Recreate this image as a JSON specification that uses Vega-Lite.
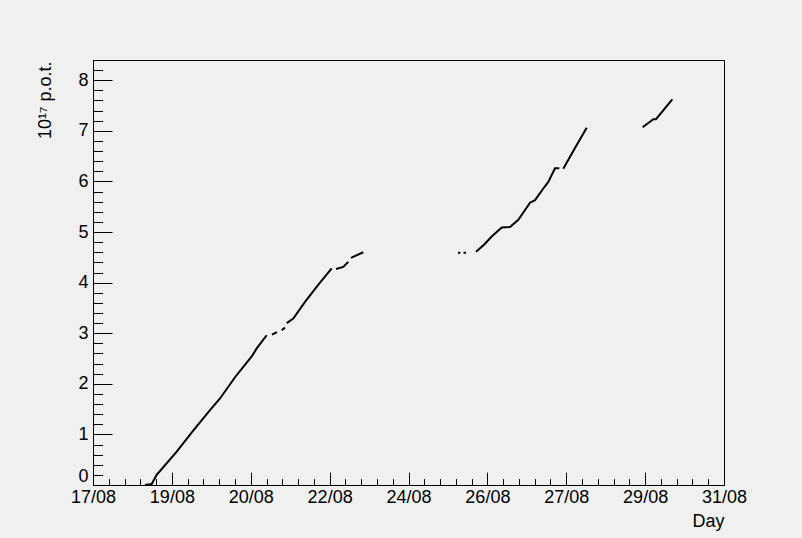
{
  "$schema": "https://vega.github.io/schema/vega-lite/v6.json",
  "autosize": "none",
  "width": 631,
  "height": 425,
  "padding": {"left": 93, "top": 60, "right": 78, "bottom": 53},
  "background": "#f0f0f0",
  "config": {
    "view": {"stroke": "black", "strokeWidth": 1, "fill": null},
    "axis": {
      "labelFont": "Liberation Sans",
      "labelFontSize": 18,
      "labelColor": "black",
      "titleFont": "Liberation Sans",
      "titleFontSize": 18,
      "titleFontWeight": "normal",
      "titleColor": "black",
      "domainColor": "black",
      "tickColor": "black",
      "grid": false,
      "labelFlush": false,
      "labelOverlap": false
    }
  },
  "data": {
    "values": [
      {"d": 1.154, "v": 0.0, "s": 1},
      {"d": 1.302, "v": 0.02, "s": 1},
      {"d": 1.413, "v": 0.2, "s": 1},
      {"d": 1.857, "v": 0.66, "s": 1},
      {"d": 2.219, "v": 1.07, "s": 1},
      {"d": 2.596, "v": 1.48, "s": 1},
      {"d": 2.818, "v": 1.71, "s": 1},
      {"d": 3.151, "v": 2.13, "s": 1},
      {"d": 3.521, "v": 2.54, "s": 1},
      {"d": 3.632, "v": 2.7, "s": 1},
      {"d": 3.854, "v": 2.96, "s": 1},
      {"d": 3.971, "v": 2.97, "s": 2},
      {"d": 4.082, "v": 3.02, "s": 2},
      {"d": 4.187, "v": 3.06, "s": 3},
      {"d": 4.26, "v": 3.11, "s": 3},
      {"d": 4.298, "v": 3.2, "s": 4},
      {"d": 4.444, "v": 3.29, "s": 4},
      {"d": 4.704, "v": 3.62, "s": 4},
      {"d": 4.992, "v": 3.95, "s": 4},
      {"d": 5.296, "v": 4.28, "s": 4},
      {"d": 5.391, "v": 4.27, "s": 5},
      {"d": 5.553, "v": 4.31, "s": 5},
      {"d": 5.664, "v": 4.41, "s": 5},
      {"d": 5.724, "v": 4.49, "s": 6},
      {"d": 5.997, "v": 4.6, "s": 6},
      {"d": 8.098, "v": 4.59, "s": 7},
      {"d": 8.15, "v": 4.59, "s": 7},
      {"d": 8.22, "v": 4.59, "s": 8},
      {"d": 8.276, "v": 4.59, "s": 8},
      {"d": 8.498, "v": 4.61, "s": 9},
      {"d": 8.675, "v": 4.75, "s": 9},
      {"d": 8.846, "v": 4.91, "s": 9},
      {"d": 9.068, "v": 5.09, "s": 9},
      {"d": 9.252, "v": 5.1, "s": 9},
      {"d": 9.436, "v": 5.24, "s": 9},
      {"d": 9.696, "v": 5.58, "s": 9},
      {"d": 9.807, "v": 5.63, "s": 9},
      {"d": 9.991, "v": 5.86, "s": 9},
      {"d": 10.102, "v": 5.99, "s": 9},
      {"d": 10.25, "v": 6.26, "s": 9},
      {"d": 10.346, "v": 6.26, "s": 9},
      {"d": 10.434, "v": 6.25, "s": 10},
      {"d": 10.694, "v": 6.66, "s": 10},
      {"d": 10.954, "v": 7.06, "s": 10},
      {"d": 12.196, "v": 7.07, "s": 11},
      {"d": 12.358, "v": 7.18, "s": 11},
      {"d": 12.431, "v": 7.23, "s": 11},
      {"d": 12.491, "v": 7.23, "s": 11},
      {"d": 12.853, "v": 7.62, "s": 11}
    ]
  },
  "resolve": {"axis": {"x": "independent", "y": "independent"}},
  "layer": [
    {
      "mark": {"type": "line", "color": "black", "strokeWidth": 2},
      "encoding": {
        "x": {
          "field": "d", "type": "quantitative",
          "scale": {"domain": [0, 14], "nice": false, "zero": false},
          "axis": {
            "orient": "bottom",
            "values": [0, 1.75, 3.5, 5.25, 7, 8.75, 10.5, 12.25, 14],
            "labelExpr": "['17/08','19/08','20/08','22/08','24/08','26/08','27/08','29/08','31/08'][round(datum.value/1.75)]",
            "tickSize": -12.75,
            "labelPadding": 16.5,
            "title": "Day",
            "titleAnchor": "end",
            "titleAlign": "right",
            "titleBaseline": "alphabetic",
            "titleX": 631,
            "titleY": 41
          }
        },
        "y": {
          "field": "v", "type": "quantitative",
          "scale": {"domain": [0, 8.4], "nice": false},
          "axis": {
            "orient": "left",
            "values": [0, 1, 2, 3, 4, 5, 6, 7, 8],
            "tickSize": -19,
            "labelPadding": 24,
            "labelBaseline": {"condition": {"test": "datum.value === 0", "value": "bottom"}, "value": "middle"},
            "title": "10¹⁷ p.o.t.",
            "titleAngle": -90,
            "titleAlign": "right",
            "titleBaseline": "alphabetic",
            "titleAnchor": "end",
            "titleX": -43,
            "titleY": 1
          }
        },
        "detail": {"field": "s"}
      }
    },
    {
      "mark": {"type": "point", "opacity": 0},
      "encoding": {
        "x": {
          "field": "d", "type": "quantitative",
          "axis": {
            "orient": "bottom",
            "values": [0.35, 0.7, 1.05, 1.4, 2.1, 2.45, 2.8, 3.15, 3.85, 4.2, 4.55, 4.9, 5.6, 5.95, 6.3, 6.65, 7.35, 7.7, 8.05, 8.4, 9.1, 9.45, 9.8, 10.15, 10.85, 11.2, 11.55, 11.9, 12.6, 12.95, 13.3, 13.65],
            "tickSize": -6.4,
            "labels": false,
            "domain": false,
            "title": null
          }
        },
        "y": {
          "field": "v", "type": "quantitative",
          "axis": {
            "orient": "left",
            "values": [0.2, 0.4, 0.6, 0.8, 1.2, 1.4, 1.6, 1.8, 2.2, 2.4, 2.6, 2.8, 3.2, 3.4, 3.6, 3.8, 4.2, 4.4, 4.6, 4.8, 5.2, 5.4, 5.6, 5.8, 6.2, 6.4, 6.6, 6.8, 7.2, 7.4, 7.6, 7.8, 8.2],
            "tickSize": -9.5,
            "labels": false,
            "domain": false,
            "title": null
          }
        }
      }
    }
  ]
}
